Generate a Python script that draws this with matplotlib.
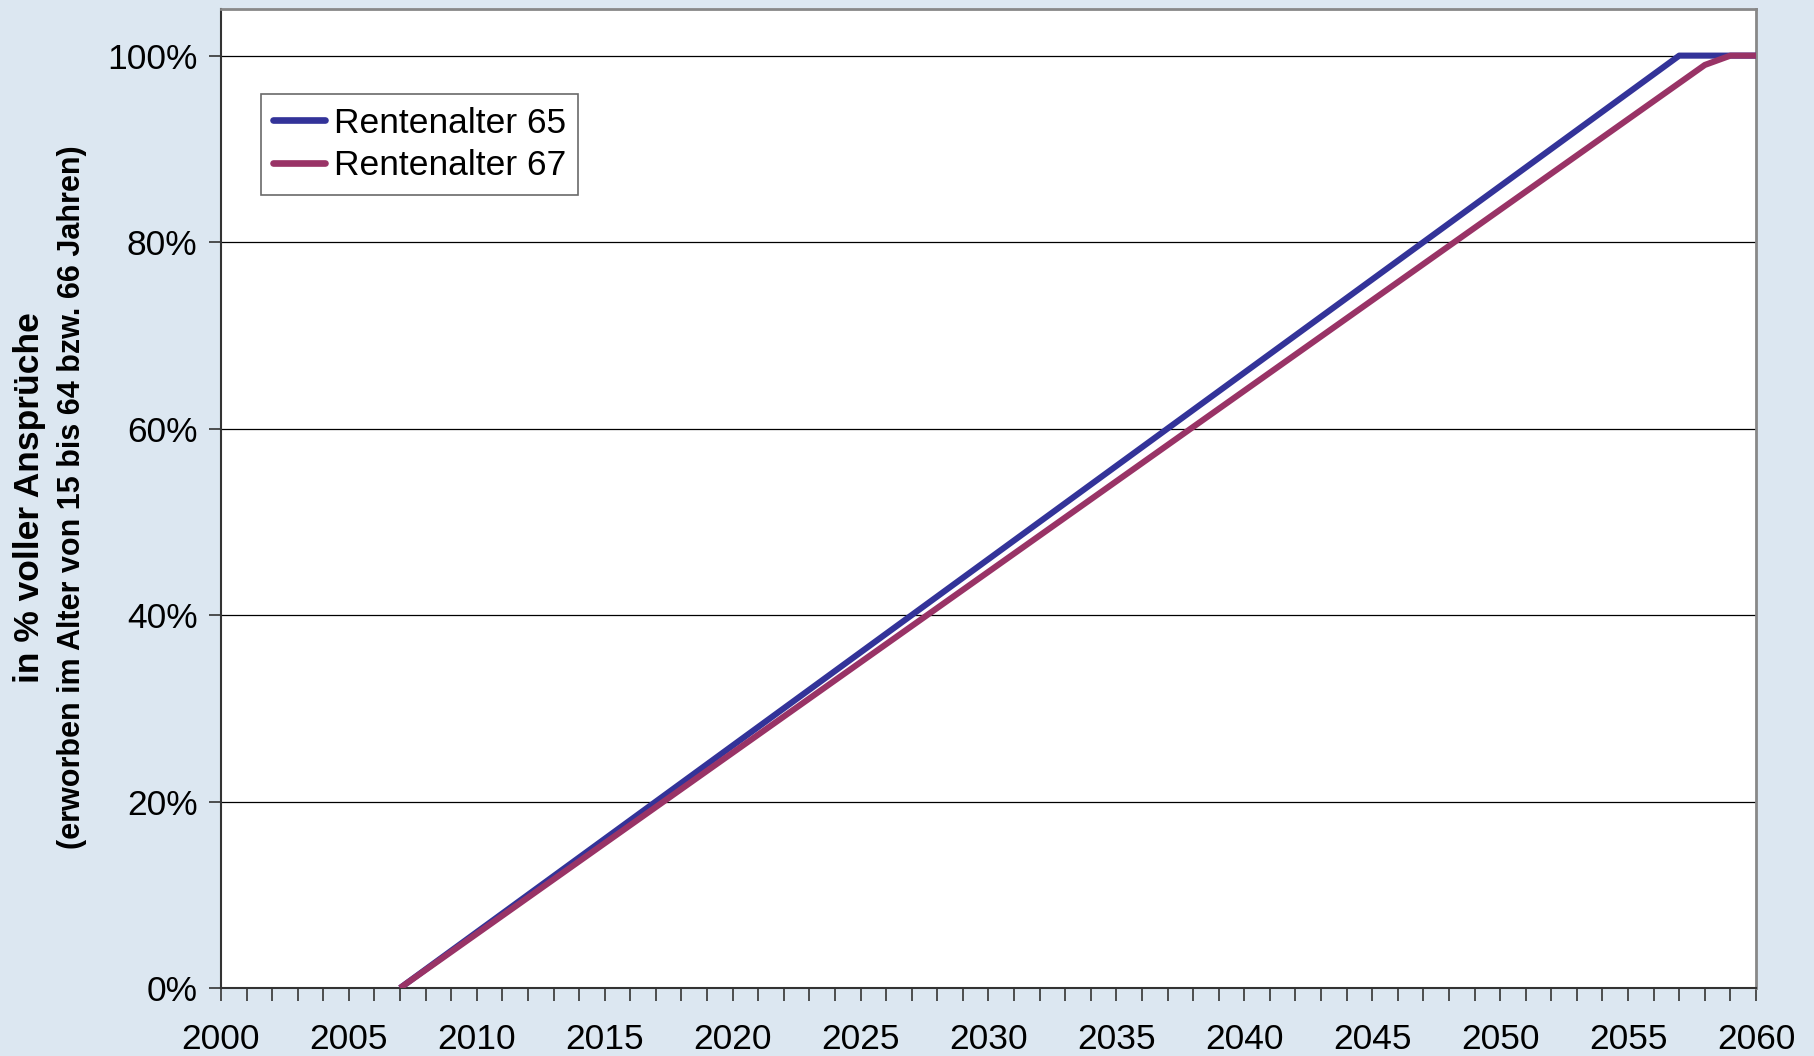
import numpy as np
import matplotlib
matplotlib.use("Agg")
import matplotlib.pyplot as plt
from matplotlib.ticker import MultipleLocator, FuncFormatter

# data
years_65 = [2007, 2057, 2060]
share_65 = [0, 100, 100]
years_67 = [2007, 2058, 2059, 2060]
share_67 = [0, 99, 100, 100]

labels = ["Rentenalter 65", "Rentenalter 67"]
colors = ["#333399", "#993366"]
bg = "#dce7f1"

plt.rcParams['font.family'] = ['Liberation Sans', 'DejaVu Sans']

fig = plt.figure(figsize=(18.14, 10.56), dpi=100, facecolor=bg)
ax = fig.add_axes([221 / 1814, 1 - 988 / 1056, (1756 - 221) / 1814, (988 - 9) / 1056])

ax.plot(years_65, share_65, color=colors[0], lw=4.4, label=labels[0],
        solid_capstyle='butt', zorder=3)
ax.plot(years_67, share_67, color=colors[1], lw=4.4, label=labels[1],
        solid_capstyle='butt', zorder=3)

ax.set_xlim(2000, 2060)
ax.set_ylim(0, 105)
ax.xaxis.set_major_locator(MultipleLocator(5))
ax.xaxis.set_minor_locator(MultipleLocator(1))
ax.yaxis.set_major_locator(MultipleLocator(20))
ax.yaxis.set_major_formatter(FuncFormatter(lambda v, p: f"{v:.0f}%"))
ax.grid(axis='y', color='black', lw=0.9)
ax.set_axisbelow(True)

ax.tick_params(axis='both', which='both', direction='out', length=9, width=1.2,
               color='#333333', labelsize=25.5, pad=8)
ax.tick_params(axis='x', pad=16)
for s in ['left', 'bottom']:
    ax.spines[s].set_color('#333333')
    ax.spines[s].set_linewidth(1.5)
for s in ['top', 'right']:
    ax.spines[s].set_color('#888888')
    ax.spines[s].set_linewidth(2)

leg = ax.legend(loc='upper left', bbox_to_anchor=(0.026, 0.913), fontsize=25.5,
                frameon=True, fancybox=False, edgecolor='#444444',
                handlelength=1.45, handletextpad=0.25, borderpad=0.35,
                labelspacing=0.28, borderaxespad=0)
leg.get_frame().set_linewidth(1.2)
for h in leg.get_lines():
    h.set_linewidth(4.8)
    h.set_solid_capstyle('round')

fig.text(0.016, 0.529, "in % voller Ansprüche", rotation=90, fontsize=25.5,
         fontweight='bold', ha='center', va='center')
fig.text(0.0397, 0.529, "(erworben im Alter von 15 bis 64 bzw. 66 Jahren)",
         rotation=90, fontsize=22, fontweight='bold', ha='center', va='center')

fig.savefig("out.png", dpi=100, facecolor=bg)
